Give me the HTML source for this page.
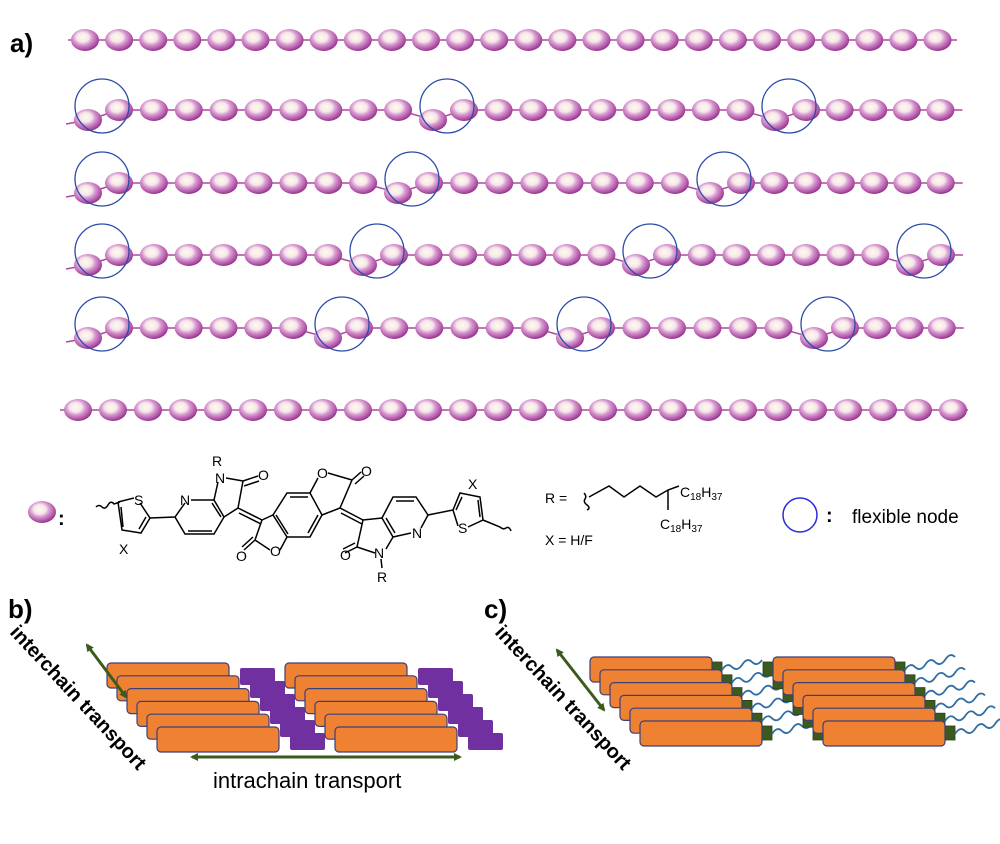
<!DOCTYPE html>
<html><head><meta charset="utf-8"><style>
html,body{margin:0;padding:0;background:#fff;}
svg{display:block;font-family:"Liberation Sans",sans-serif;}
</style></head><body>
<svg id="s" width="1000" height="844" viewBox="0 0 1000 844" xmlns="http://www.w3.org/2000/svg">
<defs>
<radialGradient id="bg" cx="0.42" cy="0.38" r="0.62">
<stop offset="0" stop-color="#fffbe8"/><stop offset="0.35" stop-color="#f6e6ec"/>
<stop offset="0.55" stop-color="#d79bd0"/><stop offset="0.85" stop-color="#b256a8"/><stop offset="1" stop-color="#93378c"/>
</radialGradient>
<marker id="ah" markerWidth="8" markerHeight="8" refX="6" refY="4" orient="auto-start-reverse" markerUnits="userSpaceOnUse" viewBox="0 0 8 8"><path d="M0,0 L8,4 L0,8 z" fill="#3c5a1c"/></marker>
</defs>
<g id="beads"></g>
<text x="10" y="52" font-size="26" font-weight="bold">a)</text>
<text x="8" y="618" font-size="26" font-weight="bold">b)</text>
<text x="484" y="618" font-size="26" font-weight="bold">c)</text>

<ellipse cx="42" cy="512" rx="14" ry="11" fill="url(#bg)"/>
<text x="58" y="525" font-size="20" font-weight="bold">:</text>

<g stroke="#000" stroke-width="1.5" fill="none">
<path d="M96,507 q3,-3 6,0 t6,-2 t6,-1 l6,-2"/>
<path d="M118,502 L134,498 M140,503 L150,518 L141,533 L122,530 L118,502 M146,517 L139,529 M123,527 L121,507"/>
<path d="M150,518 L175,517 L185,503 M191,500 L214,500 L224,517 L214,534 L185,534 L175,517 M188,531 L212,531 M212,503 L221,517"/>
<path d="M214,500 L218,482 M226,478 L243,481 L238,508 L224,517 M243,481 L258,476 M244,486 L259,481"/>
<path d="M238,508 L262,520 M239,513 L261,524"/>
<path d="M262,520 L255,540 M255,540 L244,550 M253,537 L242,547 M255,540 L270,550 M280,550 L287,537 L273,515 L262,520"/>
<path d="M273,515 L287,493 L310,493 L322,515 L310,537 L287,537 M290,497 L308,497 M276,515 L288,534 M318,515 L308,533"/>
<path d="M310,493 L318,478 M328,473 L352,480 L340,508 L322,515 M352,480 L361,472 M355,484 L364,476"/>
<path d="M340,508 L363,520 M341,513 L362,524"/>
<path d="M363,520 L382,518 L393,537 L386,549 M375,553 L357,547 L363,520 M357,547 L345,553 M355,543 L343,549 M381,559 L382,568"/>
<path d="M382,518 L393,497 L416,497 L428,515 L421,528 M411,533 L393,537 M396,501 L414,501 M386,518 L395,533"/>
<path d="M428,515 L453,510 L460,493 L480,497 L483,520 L468,527 M458,526 L453,510 M462,497 L456,510 M478,500 L480,517 M483,520 L500,527 q3,3 6,1 t5,3"/>
</g>
<g font-size="14" fill="#000">
<text x="212" y="466">R</text><text x="215" y="483">N</text><text x="258" y="480">O</text>
<text x="180" y="505">N</text><text x="134" y="505">S</text><text x="119" y="554">X</text>
<text x="236" y="561">O</text><text x="270" y="556">O</text>
<text x="317" y="478">O</text><text x="361" y="476">O</text>
<text x="340" y="560">O</text><text x="374" y="558">N</text><text x="377" y="582">R</text>
<text x="412" y="538">N</text><text x="458" y="533">S</text><text x="468" y="489">X</text>
<text x="545" y="503">R =</text><text x="545" y="545">X = H/F</text>
<text x="680" y="497">C<tspan font-size="10" dy="3">18</tspan><tspan dy="-3">H</tspan><tspan font-size="10" dy="3">37</tspan></text>
<text x="660" y="529">C<tspan font-size="10" dy="3">18</tspan><tspan dy="-3">H</tspan><tspan font-size="10" dy="3">37</tspan></text>
</g>
<path d="M584,493 q3,3 1,6 t2,6 t0,5 M589,497 L609,486 L624,497 L640,486 L656,497 L668,490 L679,486 M668,490 L668,510" stroke="#000" stroke-width="1.5" fill="none"/>
<circle cx="800" cy="515" r="17" fill="none" stroke="#2a2ad8" stroke-width="1.5"/>
<text x="826" y="522" font-size="20" font-weight="bold">:</text>
<text x="852" y="523" font-size="19">flexible node</text>

<g id="b"></g>
<g id="c"></g>

<line x1="87" y1="645" x2="126" y2="697" stroke="#3c5a1c" stroke-width="3" marker-start="url(#ah)" marker-end="url(#ah)"/>
<text x="0" y="0" font-size="20" font-weight="bold" transform="translate(9,633) rotate(47)">interchain transport</text>
<line x1="192" y1="757" x2="460" y2="757" stroke="#3c5a1c" stroke-width="3" marker-start="url(#ah)" marker-end="url(#ah)"/>
<text x="213" y="788" font-size="22">intrachain transport</text>
<line x1="557" y1="650" x2="604" y2="710" stroke="#3c5a1c" stroke-width="3" marker-start="url(#ah)" marker-end="url(#ah)"/>
<text x="0" y="0" font-size="20" font-weight="bold" transform="translate(494,633) rotate(47)">interchain transport</text>
</svg>
<script>
var NS="http://www.w3.org/2000/svg";
function el(p,t,a){var e=document.createElementNS(NS,t);for(var k in a)e.setAttribute(k,a[k]);p.appendChild(e);return e;}
var G=document.getElementById('beads');
function bead(x,y){el(G,'ellipse',{cx:x,cy:y,rx:14,ry:11,fill:'url(#bg)'});}
function row(y,x0,x1,circles){
  var items=[];
  var prevEnd=x0-34;
  circles.forEach(function(c){
    var low=c-12, high=c+19;
    var a=prevEnd, b=low;
    var n=Math.round((b-a)/34)-1;
    if(n>0){var st=(b-a)/(n+1);for(var i=1;i<=n;i++)items.push([a+st*i,y]);}
    items.push([low,y+10]);items.push([high,y]);
    prevEnd=high;
  });
  var a=prevEnd,b=x1+34;
  var n=Math.round((b-a)/34)-1;var st=(b-a)/(n+1);
  for(var i=1;i<=n;i++)items.push([a+st*i,y]);
  var d="M"+(items[0][0]-22)+","+(items[0][1]+4);
  items.forEach(function(p){d+=" L"+p[0]+","+p[1];});
  d+=" L"+(items[items.length-1][0]+22)+","+items[items.length-1][1];
  el(G,'path',{d:d,stroke:'#b0479f','stroke-width':1.5,fill:'none'});
  items.forEach(function(p){bead(p[0],p[1]);});
  circles.forEach(function(c){el(G,'circle',{cx:c+2,cy:y-4,r:27,fill:'none',stroke:'#2b4aa8','stroke-width':1.3});});
}
(function(){var y=40;el(G,'line',{x1:68,y1:y,x2:957,y2:y,stroke:'#b0479f','stroke-width':1.5});for(var i=0;i<26;i++)bead(85+i*34.1,y);})();
row(110,88,940,[100,445,787]);
row(183,88,940,[100,410,722]);
row(255,88,940,[100,375,648,922]);
row(328,88,940,[100,340,582,826]);
(function(){var y=410;el(G,'line',{x1:60,y1:y,x2:968,y2:y,stroke:'#b0479f','stroke-width':1.5});for(var i=0;i<26;i++)bead(78+i*35,y);})();
var B=document.getElementById('b');
function orange(p,x,y){el(p,'rect',{x:x,y:y,width:122,height:25,rx:4,fill:'#ef8232',stroke:'#3b3f7a','stroke-width':1.2});}
[240,418].forEach(function(px){for(var i=0;i<6;i++){el(B,'rect',{x:px+i*10,y:668+i*13,width:35,height:17,rx:2,fill:'#7030a0'});}});
[[107,663],[285,663]].forEach(function(g){for(var i=0;i<6;i++)orange(B,g[0]+i*10,g[1]+i*12.8);});
var C=document.getElementById('c');
[[590,657],[773,657]].forEach(function(g,gi){for(var i=0;i<6;i++){var x=g[0]+i*10,y=g[1]+i*12.8;
  if(gi==1)el(C,'rect',{x:x-10,y:y+5,width:11,height:14,fill:'#3a5a1e',stroke:'#2a3f14','stroke-width':0.8});
  el(C,'rect',{x:x+121,y:y+5,width:11,height:14,fill:'#3a5a1e',stroke:'#2a3f14','stroke-width':0.8});
  var sx=x+132,sy=y+13,d="M"+sx+","+sy;for(var k=0;k<2;k++){d+=" q5,-8 10,-3 t10,-2";sx+=20;}
  if(gi==1)d+=" q5,-8 10,-3";
  el(C,'path',{d:d,stroke:'#2f6ea3','stroke-width':1.8,fill:'none'});
}
for(var i=0;i<6;i++)orange(C,g[0]+i*10,g[1]+i*12.8);});
</script>
</body></html>
